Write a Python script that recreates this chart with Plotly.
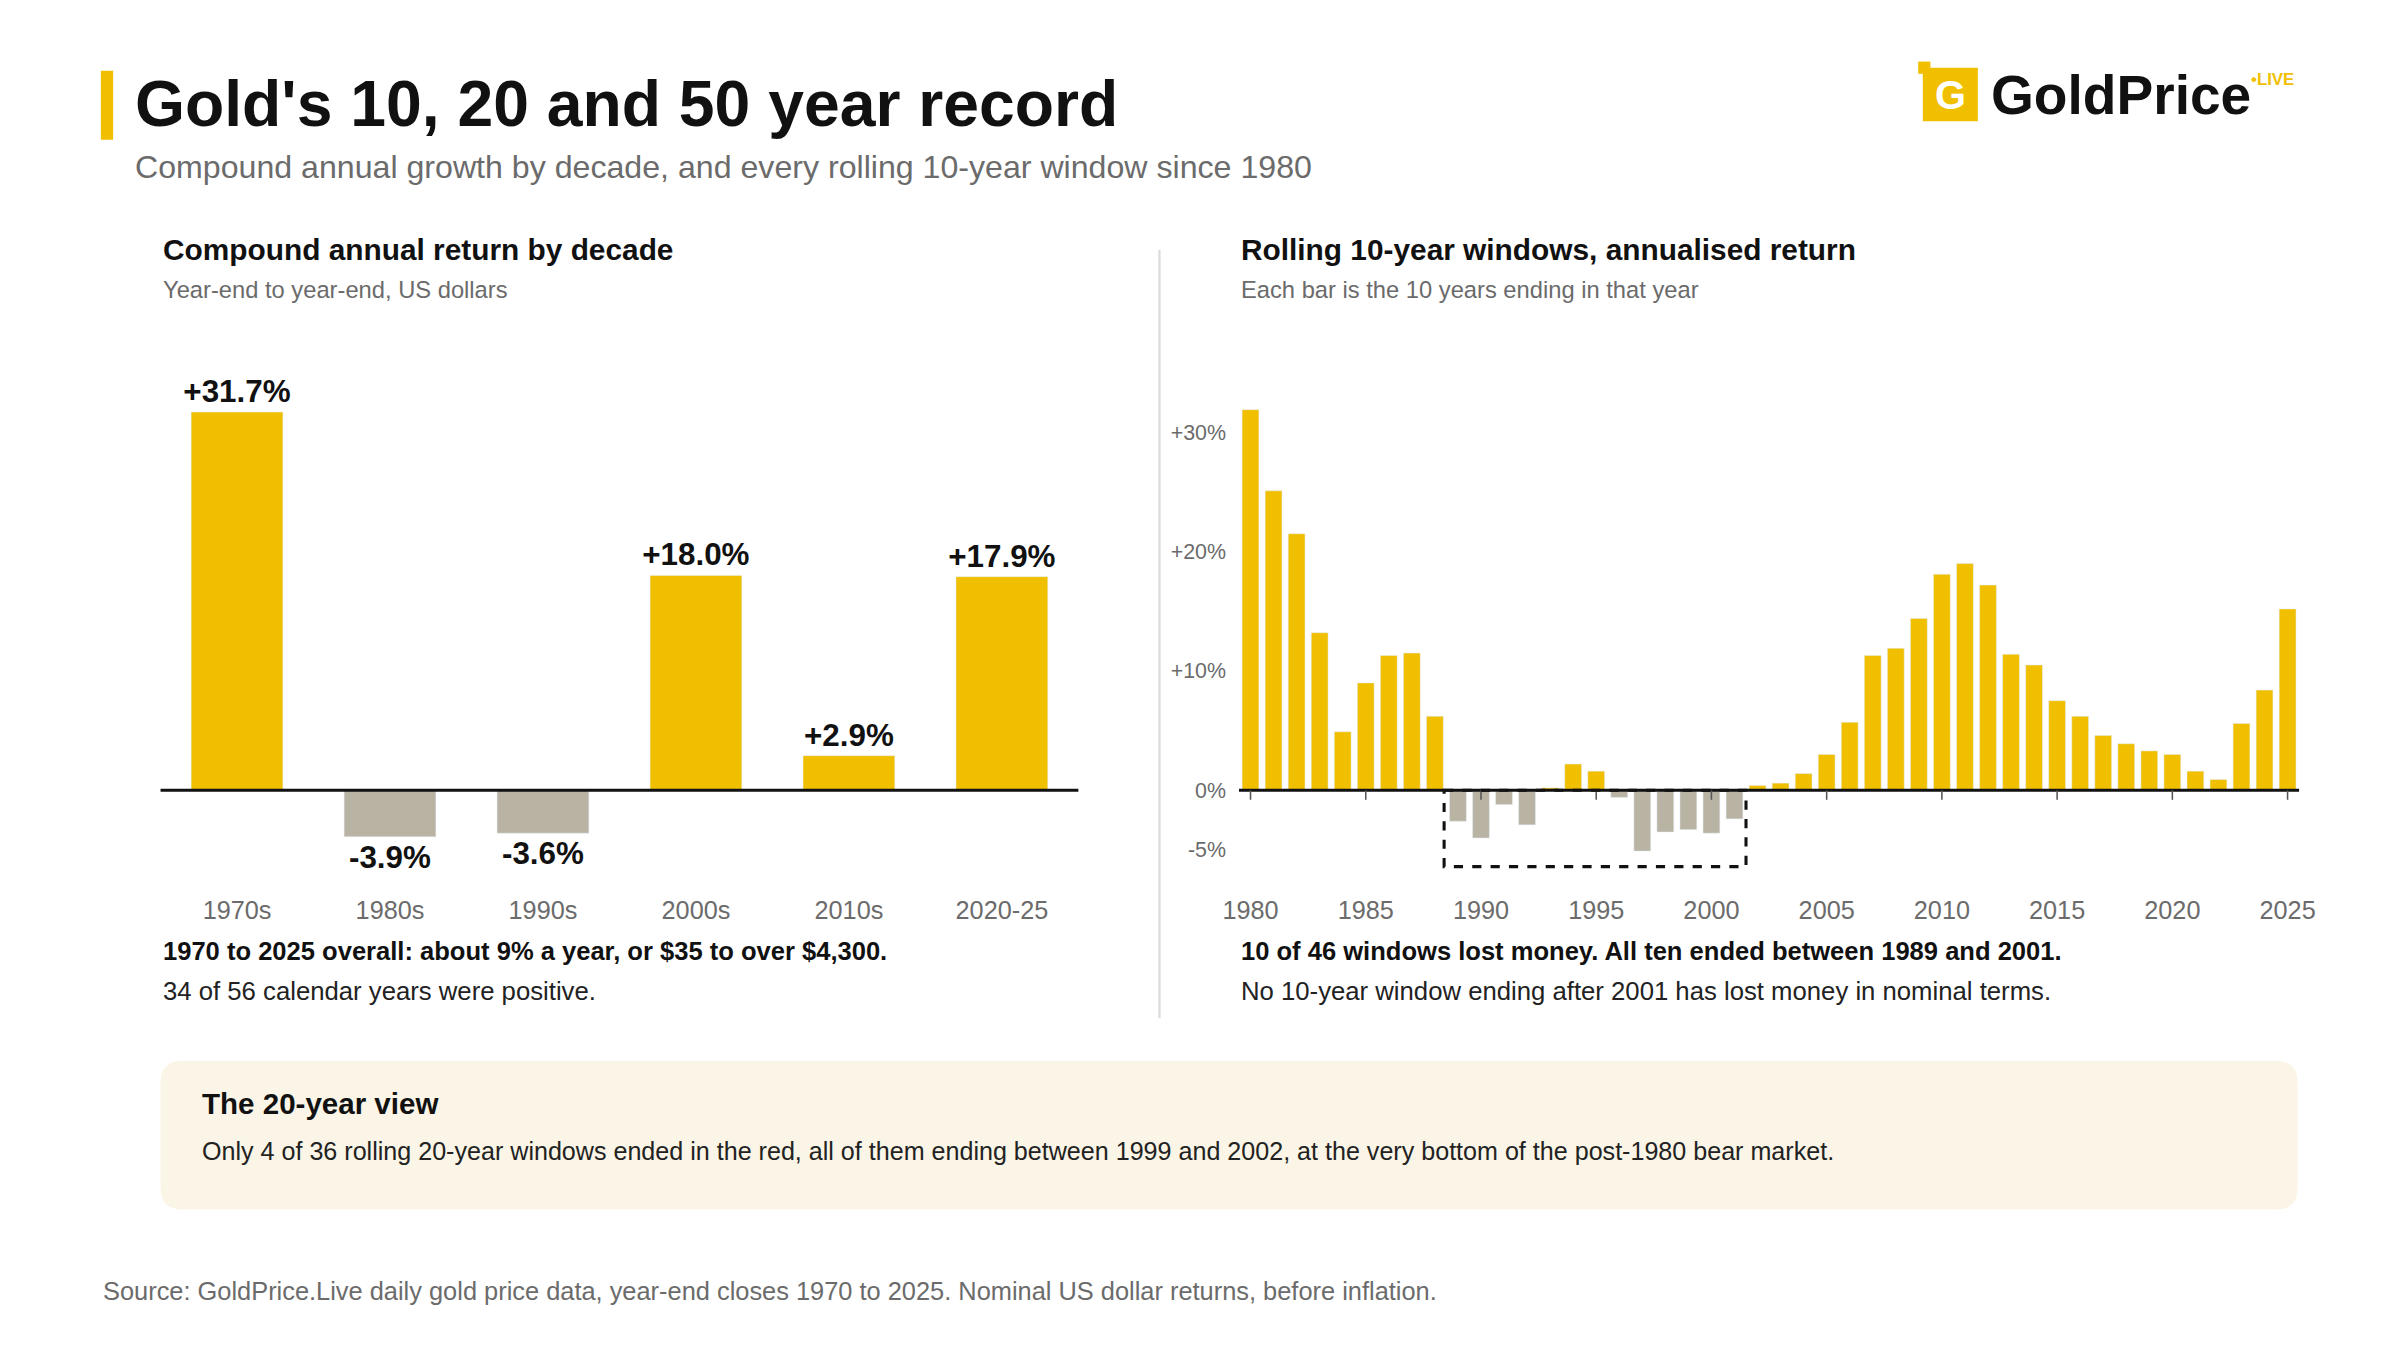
import plotly.graph_objects as go

S = 2400/1568
W, H = 2400, 1350
def px(x): return ((x - 16.4) / 0.9864) / 1568
def py(y): return 1 - (y - 5) / 882

decades = ["1970s", "1980s", "1990s", "2000s", "2010s", "2020-25"]
decade_cagr = [31.7, -3.9, -3.6, 18.0, 2.9, 17.9]

years = list(range(1980, 2026))
rolling10 = [31.9, 25.1, 21.5, 13.2, 4.9, 9.0, 11.3, 11.5, 6.2, -2.6,
             -4.0, -1.2, -2.9, 0.2, 2.2, 1.6, -0.6, -5.1, -3.5, -3.3,
             -3.6, -2.4, 0.4, 0.6, 1.4, 3.0, 5.7, 11.3, 11.9, 14.4,
             18.1, 19.0, 17.2, 11.4, 10.5, 7.5, 6.2, 4.6, 3.9, 3.3,
             3.0, 1.6, 0.9, 5.6, 8.4, 15.2]
ytick_vals = [-5, 0, 10, 20, 30]
ytick_text = ["-5%", "0%", "+10%", "+20%", "+30%"]

GOLD = "#f0c000"
GREY = "#b9b3a3"
FONT = "Liberation Sans, Arial, sans-serif"
def col(v): return GOLD if v >= 0 else GREY

fig = go.Figure()
fig.add_trace(go.Bar(x=decades, y=decade_cagr, marker_color=[col(v) for v in decade_cagr],
                     xaxis="x", yaxis="y", showlegend=False,
                     text=[f"{v:+.1f}%" for v in decade_cagr], textposition="outside",
                     constraintext="none",
                     textfont=dict(size=20.5*S, color="#111", family=FONT, weight="bold"),
                     cliponaxis=False, hoverinfo="skip"))
fig.add_trace(go.Bar(x=years, y=rolling10, marker_color=[col(v) for v in rolling10],
                     xaxis="x2", yaxis="y2", showlegend=False, hoverinfo="skip", width=0.73))

yr = [-8.2, 36.7]
ydom = [py(580), py(230)]
fig.update_layout(
    width=W, height=H, margin=dict(l=0, r=0, t=0, b=0),
    paper_bgcolor="white", plot_bgcolor="rgba(0,0,0,0)",
    font=dict(family=FONT), bargap=0.4,
    xaxis=dict(domain=[px(105), px(705)], anchor="y", showline=False, ticks="",
               tickfont=dict(size=16.5*S, color="#6b6b6b"), showgrid=False, ticklabelstandoff=5),
    yaxis=dict(domain=ydom, range=yr, visible=False, showgrid=False, zeroline=False),
    xaxis2=dict(domain=[px(810), px(1503)], anchor="y2", range=[1979.5, 2025.5],
                tickvals=list(range(1980, 2026, 5)), ticks="", showline=False, showgrid=False,
                tickfont=dict(size=16.5*S, color="#6b6b6b"), ticklabelstandoff=5),
    yaxis2=dict(domain=ydom, range=yr, anchor="x2", tickvals=ytick_vals, ticktext=ytick_text,
                showgrid=False, zeroline=False, showline=False, ticks="",
                tickfont=dict(size=14*S, color="#6b6b6b"), ticklabelstandoff=12),
)

shapes = []
shapes.append(dict(type="line", xref="x domain", yref="y", x0=0, x1=1, y0=0, y1=0,
                   line=dict(color="#111", width=2*S)))
shapes.append(dict(type="line", xref="x2 domain", yref="y2", x0=0, x1=1, y0=0, y1=0,
                   line=dict(color="#111", width=2*S)))
for yv in range(1980, 2026, 5):
    shapes.append(dict(type="line", xref="x2", yref="y2", x0=yv, x1=yv, y0=0, y1=-0.8,
                       line=dict(color="#555", width=1*S)))
shapes.append(dict(type="rect", xref="x2", yref="y2", x0=1988.4, x1=2001.5, y0=0, y1=-6.4,
                   line=dict(color="#111", width=2*S, dash="dash"), fillcolor="rgba(0,0,0,0)"))
shapes.append(dict(type="rect", xref="paper", yref="paper", x0=px(66), x1=px(74), y0=py(91), y1=py(46),
                   fillcolor=GOLD, line_width=0))
shapes.append(dict(type="line", xref="paper", yref="paper", x0=px(758), x1=px(758), y0=py(163), y1=py(665),
                   line=dict(color="#dcdcdc", width=1.5*S)))
# rounded box
x0b, x1b, y0b, y1b, r = px(105), px(1502), py(790), py(693), 14
rx, ry = r/1568/0.9864, r/882
path = (f"M{x0b+rx},{y1b} L{x1b-rx},{y1b} Q{x1b},{y1b} {x1b},{y1b-ry} L{x1b},{y0b+ry} "
        f"Q{x1b},{y0b} {x1b-rx},{y0b} L{x0b+rx},{y0b} Q{x0b},{y0b} {x0b},{y0b+ry} "
        f"L{x0b},{y1b-ry} Q{x0b},{y1b} {x0b+rx},{y1b} Z")
shapes.append(dict(type="path", xref="paper", yref="paper", path=path,
                   fillcolor="#faf5e6", line_width=0, layer="below"))
shapes.append(dict(type="rect", xref="paper", yref="paper", x0=px(1257), x1=px(1293), y0=py(79), y1=py(44),
                   fillcolor=GOLD, line_width=0))
shapes.append(dict(type="rect", xref="paper", yref="paper", x0=px(1254), x1=px(1262), y0=py(48), y1=py(40),
                   fillcolor=GOLD, line_width=0))
fig.update_layout(shapes=shapes)

ann = []
def T(x, y, text, size, color="#111", bold=False, xanchor="left"):
    ann.append(dict(xref="paper", yref="paper", x=px(x), y=py(y), text=text, showarrow=False,
                    xanchor=xanchor, yanchor="middle",
                    font=dict(size=size*S, color=color, family=FONT, weight="bold" if bold else "normal")))
T(87, 68, "Gold's 10, 20 and 50 year record", 42, bold=True)
T(87, 109, "Compound annual growth by decade, and every rolling 10-year window since 1980", 21, "#6b6b6b")
T(1300, 62, "GoldPrice", 36, bold=True)
T(1470, 52, "•LIVE", 11, GOLD, bold=True)
T(1275, 62, "G", 26, "white", bold=True, xanchor="center")
T(105, 163, "Compound annual return by decade", 19.5, bold=True)
T(105, 189, "Year-end to year-end, US dollars", 15.5, "#6b6b6b")
T(810, 163, "Rolling 10-year windows, annualised return", 19.5, bold=True)
T(810, 189, "Each bar is the 10 years ending in that year", 15.5, "#6b6b6b")
T(105, 621, "1970 to 2025 overall: about 9% a year, or $35 to over $4,300.", 16.7, bold=True)
T(105, 647, "34 of 56 calendar years were positive.", 16.8, "#222")
T(810, 621, "10 of 46 windows lost money. All ten ended between 1989 and 2001.", 16.7, bold=True)
T(810, 647, "No 10-year window ending after 2001 has lost money in nominal terms.", 16.8, "#222")
T(131, 721, "The 20-year view", 19.3, bold=True)
T(131, 752, "Only 4 of 36 rolling 20-year windows ended in the red, all of them ending between 1999 and 2002, at the very bottom of the post-1980 bear market.", 16.4, "#222")
T(66, 843, "Source: GoldPrice.Live daily gold price data, year-end closes 1970 to 2025. Nominal US dollar returns, before inflation.", 16.6, "#6b6b6b")
fig.update_layout(annotations=ann)

fig.write_html("out.html")
